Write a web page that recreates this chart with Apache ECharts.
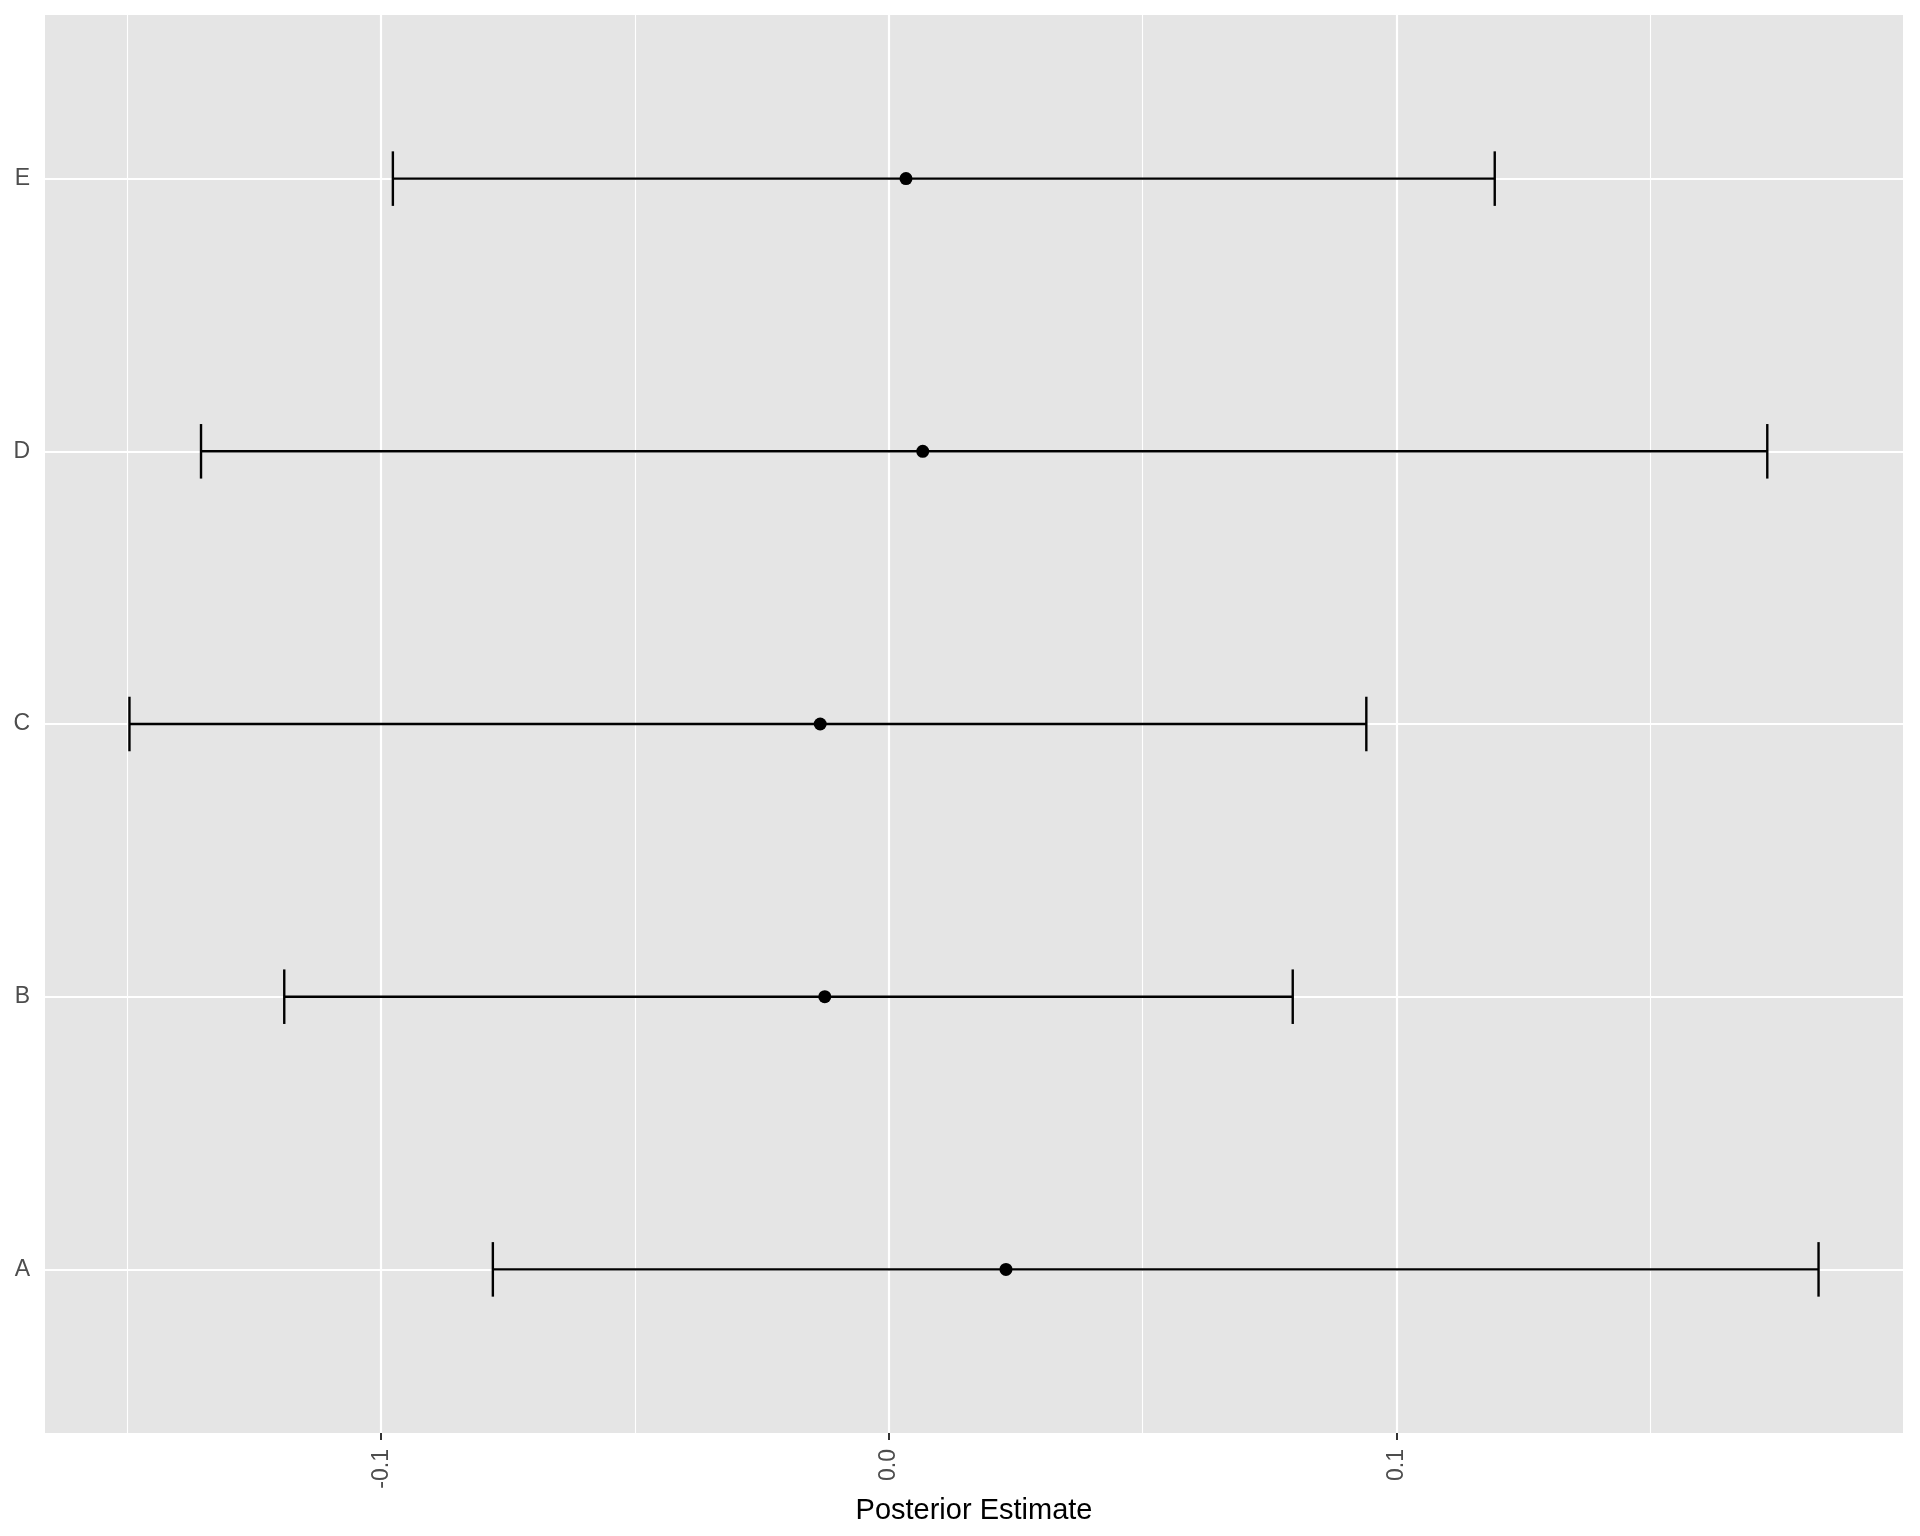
<!DOCTYPE html>
<html>
<head>
<meta charset="utf-8">
<script src="https://cdn.jsdelivr.net/npm/echarts@6/dist/echarts.min.js"></script>
<style>
html,body{margin:0;padding:0;background:#ffffff;}
#chart{width:1920px;height:1536px;}
</style>
</head>
<body>
<div id="chart"></div>
<script>
// ---- data ----
const categories = ['A', 'B', 'C', 'D', 'E'];
const estimate = [0.0231, -0.0126, -0.0135, 0.0067, 0.0034];
const lower = [-0.0780, -0.1191, -0.1496, -0.1355, -0.0977];
const upper = [0.1832, 0.0796, 0.0941, 0.1731, 0.1194];
const xTickValues = [-0.1, 0.0, 0.1];
const xTickLabels = ['-0.1', '0.0', '0.1'];
const xMinorValues = [-0.15, -0.05, 0.05, 0.15];
const xTitle = 'Posterior Estimate';

// ---- derived (ggplot-like expansion) ----
const dMin = Math.min(...lower), dMax = Math.max(...upper);
const span = dMax - dMin;
const xMin = dMin - 0.05 * span, xMax = dMax + 0.05 * span;
const yPos = categories.map((c, i) => i + 1);

const FONT = '"Liberation Sans", Arial, Helvetica, sans-serif';

const gridLines = [];
xMinorValues.forEach(v => gridLines.push({xAxis: v, lineStyle: {width: 1.1, color: '#ffffff', type: 'solid'}}));
xTickValues.forEach(v => gridLines.push({xAxis: v, lineStyle: {width: 2.2, color: '#ffffff', type: 'solid'}}));
yPos.forEach(v => gridLines.push({yAxis: v, lineStyle: {width: 2.2, color: '#ffffff', type: 'solid'}}));

const chart = echarts.init(document.getElementById('chart'), null, {renderer: 'canvas'});
chart.setOption({
  animation: false,
  backgroundColor: '#ffffff',
  grid: {
    left: 45, right: 17, top: 15, bottom: 103,
    show: true, backgroundColor: '#E5E5E5', borderWidth: 0,
    containLabel: false, outerBoundsMode: 'none'
  },
  xAxis: {
    type: 'value', min: xMin, max: xMax,
    name: xTitle, nameLocation: 'middle', nameGap: 49,
    nameTextStyle: {fontFamily: FONT, fontSize: 29, color: '#000000'},
    axisLine: {show: false},
    splitLine: {show: false},
    axisTick: {show: true, customValues: xTickValues, length: 7, lineStyle: {color: '#333333', width: 2}},
    axisLabel: {
      show: true, customValues: xTickValues, rotate: 90, margin: 16,
      fontFamily: FONT, fontSize: 23, color: '#4D4D4D',
      formatter: v => { const i = xTickValues.findIndex(t => Math.abs(t - v) < 1e-9); return i >= 0 ? xTickLabels[i] : ''; }
    }
  },
  yAxis: {
    type: 'value', min: 0.4, max: 5.6,
    axisLine: {show: false},
    splitLine: {show: false},
    axisTick: {show: true, customValues: yPos, length: 7, lineStyle: {color: '#333333', width: 2}},
    axisLabel: {
      show: true, customValues: yPos, margin: 15,
      fontFamily: FONT, fontSize: 23, color: '#4D4D4D',
      formatter: v => categories[Math.round(v) - 1] || ''
    }
  },
  series: [
    {
      type: 'line', data: [], silent: true, z: 1,
      markLine: {silent: true, z: 1, symbol: ['none', 'none'], label: {show: false}, animation: false, data: gridLines}
    },
    {
      type: 'custom', zlevel: 1, z: 3, silent: true,
      data: categories.map((c, i) => [lower[i], upper[i], yPos[i]]),
      renderItem: function (params, api) {
        const lo = api.value(0), hi = api.value(1), y = api.value(2);
        const pL = api.coord([lo, y]), pH = api.coord([hi, y]);
        const capT = api.coord([lo, y + 0.1])[1], capB = api.coord([lo, y - 0.1])[1];
        const style = {stroke: '#000000', lineWidth: 2.4, fill: 'none'};
        return {
          type: 'group',
          children: [
            {type: 'line', shape: {x1: pL[0], y1: pL[1], x2: pH[0], y2: pH[1]}, style: style},
            {type: 'line', shape: {x1: pL[0], y1: capT, x2: pL[0], y2: capB}, style: style},
            {type: 'line', shape: {x1: pH[0], y1: capT, x2: pH[0], y2: capB}, style: style}
          ]
        };
      }
    },
    {
      type: 'scatter', zlevel: 1, z: 4, silent: true,
      symbol: 'circle', symbolSize: 13,
      itemStyle: {color: '#000000', opacity: 1},
      data: categories.map((c, i) => [estimate[i], yPos[i]])
    }
  ]
});
</script>
</body>
</html>
